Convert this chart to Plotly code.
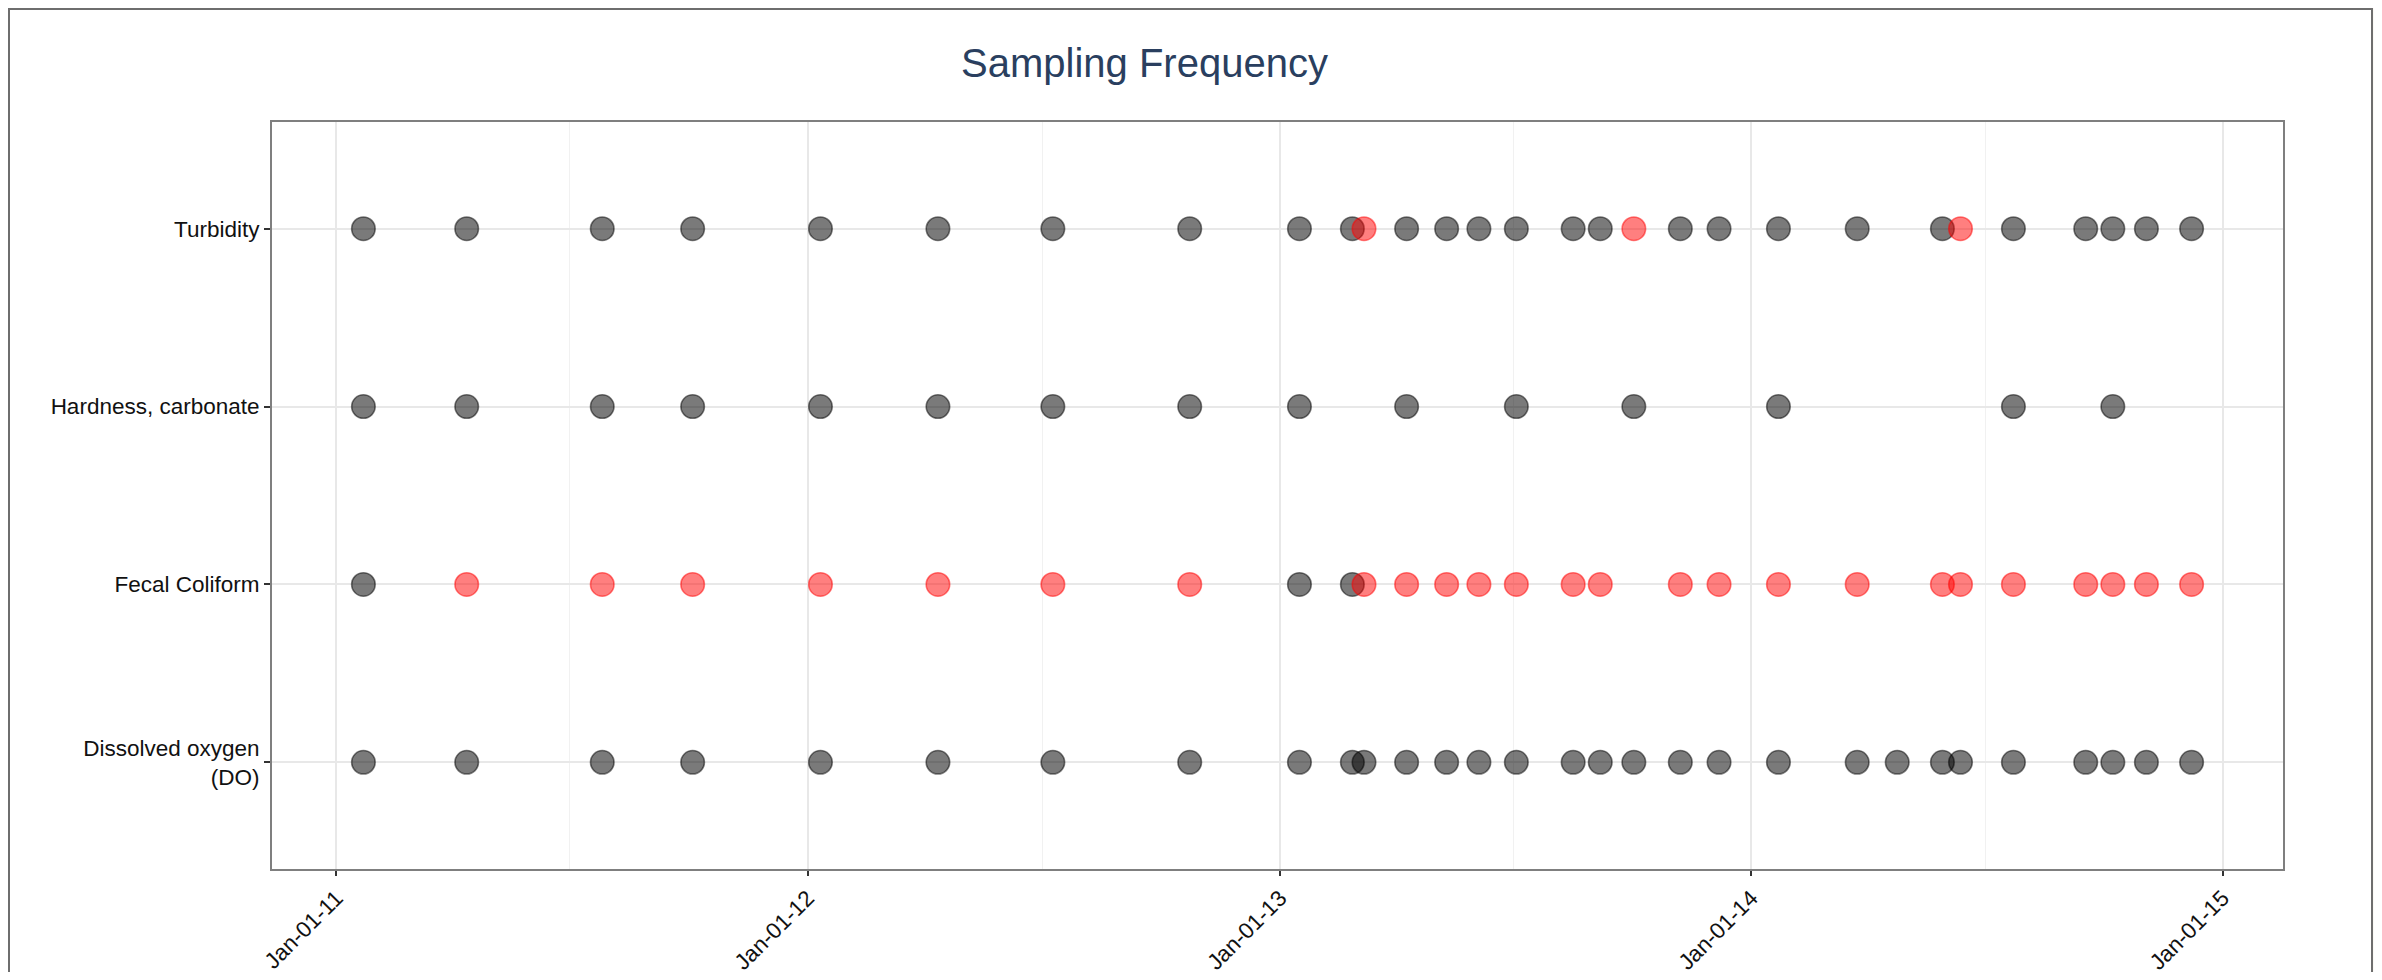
import pandas as pd
import plotly.graph_objects as go

# ---------------- data ----------------
categories = ["Dissolved oxygen<br>(DO)", "Fecal Coliform", "Hardness, carbonate", "Turbidity"]

turbidity_black = ["2011-01-22", "2011-04-12", "2011-07-26", "2011-10-04",
                   "2012-01-11", "2012-04-11", "2012-07-09", "2012-10-23",
                   "2013-01-16", "2013-02-26", "2013-04-09", "2013-05-10", "2013-06-04",
                   "2013-07-03", "2013-08-16", "2013-09-06", "2013-11-07", "2013-12-07",
                   "2014-01-22", "2014-03-24", "2014-05-29", "2014-07-23", "2014-09-17",
                   "2014-10-08", "2014-11-03", "2014-12-08"]
turbidity_red = ["2013-03-07", "2013-10-02", "2014-06-12"]

hardness_black = ["2011-01-22", "2011-04-12", "2011-07-26", "2011-10-04",
                  "2012-01-11", "2012-04-11", "2012-07-09", "2012-10-23",
                  "2013-01-16", "2013-04-09", "2013-07-03", "2013-10-02",
                  "2014-01-22", "2014-07-23", "2014-10-08"]
hardness_red = []

fecal_black = ["2011-01-22", "2013-01-16", "2013-02-26"]
fecal_red = ["2011-04-12", "2011-07-26", "2011-10-04",
             "2012-01-11", "2012-04-11", "2012-07-09", "2012-10-23",
             "2013-03-07", "2013-04-09", "2013-05-10", "2013-06-04", "2013-07-03",
             "2013-08-16", "2013-09-06", "2013-11-07", "2013-12-07",
             "2014-01-22", "2014-03-24", "2014-05-29", "2014-06-12", "2014-07-23",
             "2014-09-17", "2014-10-08", "2014-11-03", "2014-12-08"]

do_black = ["2011-01-22", "2011-04-12", "2011-07-26", "2011-10-04",
            "2012-01-11", "2012-04-11", "2012-07-09", "2012-10-23",
            "2013-01-16", "2013-02-26", "2013-03-07", "2013-04-09", "2013-05-10",
            "2013-06-04", "2013-07-03", "2013-08-16", "2013-09-06", "2013-10-02",
            "2013-11-07", "2013-12-07",
            "2014-01-22", "2014-03-24", "2014-04-24", "2014-05-29", "2014-06-12",
            "2014-07-23", "2014-09-17", "2014-10-08", "2014-11-03", "2014-12-08"]
do_red = []

tick_dates = ["2011-01-01", "2012-01-01", "2013-01-01", "2014-01-01", "2015-01-01"]
tick_labels = ["Jan-01-11", "Jan-01-12", "Jan-01-13", "Jan-01-14", "Jan-01-15"]
minor_dates = ["2011-07-01", "2012-07-01", "2013-07-01", "2014-07-01"]

# ---------------- build ----------------
black = {categories[0]: do_black, categories[1]: fecal_black,
         categories[2]: hardness_black, categories[3]: turbidity_black}
red = {categories[0]: do_red, categories[1]: fecal_red,
       categories[2]: hardness_red, categories[3]: turbidity_red}

bx, by, rx, ry = [], [], [], []
for c in categories:
    bx += black[c]; by += [c] * len(black[c])
    rx += red[c]; ry += [c] * len(red[c])

all_dates = pd.to_datetime(bx + rx)
dmin, dmax = all_dates.min(), all_dates.max()
pad = (dmax - dmin) * 0.05
xrange = [(dmin - pad).strftime("%Y-%m-%d %H:%M"), (dmax + pad).strftime("%Y-%m-%d %H:%M")]

fig = go.Figure()
fig.add_trace(go.Scatter(
    x=bx, y=by, mode="markers",
    marker=dict(size=23.5, color="rgba(0,0,0,0.52)",
                line=dict(color="rgba(0,0,0,0.5)", width=1.6)),
    showlegend=False, hoverinfo="x+y"))
fig.add_trace(go.Scatter(
    x=rx, y=ry, mode="markers",
    marker=dict(size=23.5, color="rgba(255,0,0,0.5)",
                line=dict(color="rgba(255,0,0,0.5)", width=1.6)),
    showlegend=False, hoverinfo="x+y"))

OFF = 8                      # page body margin
W, H = 2382 - 2 * OFF, 980 - 2 * OFF
L, R, T, B = 272 - OFF, 2283 - OFF, 122 - OFF, 869 - OFF   # plot area inside figure
pw, ph = R - L, B - T

# outer white frame (screenshot border)
fig.add_shape(type="rect", xref="paper", yref="paper", layer="below",
              x0=(1 - L) / pw, x1=(2372 - OFF - L) / pw,
              y0=(B - 1000) / ph, y1=(B - 1) / ph,
              fillcolor="white", line=dict(color="#6e6e6e", width=2))

font_family = "Liberation Sans, Arial, sans-serif"
fig.update_layout(
    width=W, height=H, autosize=False,
    margin=dict(l=L, r=W - R, t=T, b=H - B, pad=0, autoexpand=False),
    paper_bgcolor="#fbfaf5", plot_bgcolor="white",
    font=dict(family=font_family, color="black"),
    title=dict(text="Sampling Frequency", x=(1144.5 - OFF) / W, xanchor="center",
               y=1 - (63 - OFF) / H, yanchor="middle", xref="container", yref="container",
               font=dict(size=40, color="#2a3f5f", family=font_family)),
    showlegend=False,
)
fig.update_xaxes(
    type="date", range=xrange, automargin=False,
    tickmode="array", tickvals=tick_dates, ticktext=tick_labels,
    tickangle=-45, tickfont=dict(size=22.5, color="#111111"),
    ticks="outside", ticklen=5, tickwidth=1.5, tickcolor="#333333",
    showgrid=True, gridcolor="#e8e8e8", gridwidth=2,
    minor=dict(tickmode="array", tickvals=minor_dates, showgrid=True,
               gridcolor="#f1f1f1", gridwidth=1, ticks=""),
    showline=True, linecolor="#7f7f7f", linewidth=2, mirror=True,
    zeroline=False,
)
fig.update_yaxes(
    type="category", categoryorder="array", categoryarray=categories,
    range=[-0.6, 3.6], automargin=False,
    tickfont=dict(size=22.5, color="#111111"),
    ticks="outside", ticklen=6, tickwidth=1.5, tickcolor="#333333",
    showgrid=True, gridcolor="#e8e8e8", gridwidth=2,
    showline=True, linecolor="#7f7f7f", linewidth=2, mirror=True,
    zeroline=False,
)

fig.write_html("out.html")
